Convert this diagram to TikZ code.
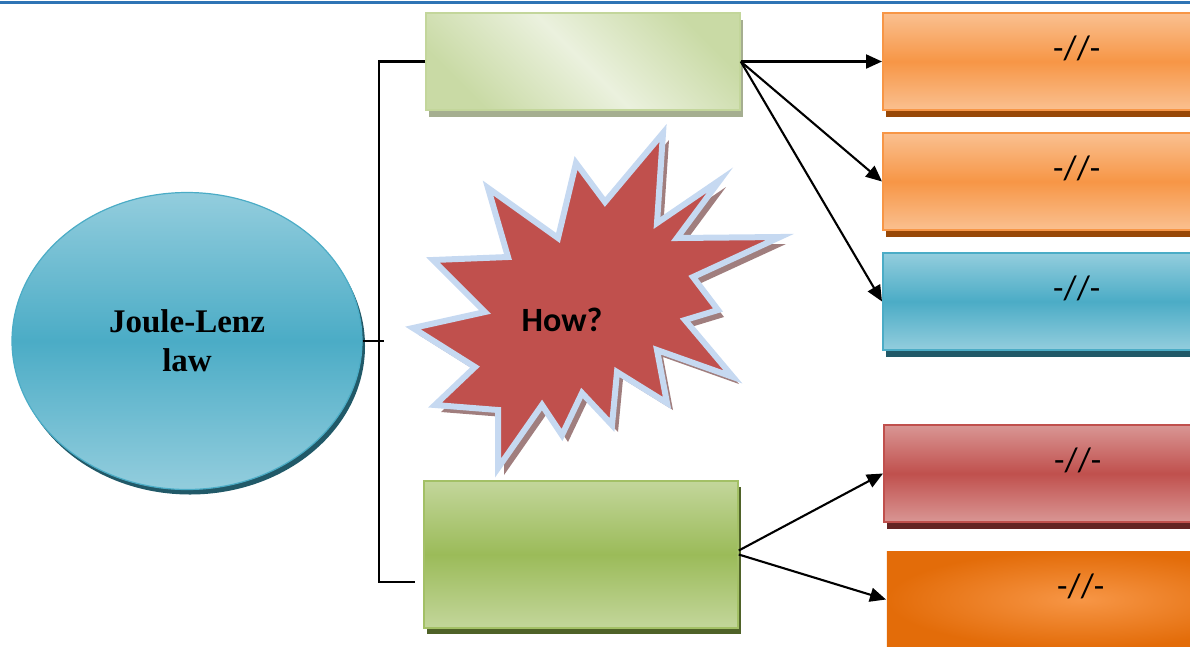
\documentclass[tikz,border=0pt]{standalone}
\usepackage{fontspec}
\setmainfont{Liberation Serif}
\newfontfamily\calib{Carlito}
\usepackage{tikz}
\usetikzlibrary{shapes.geometric, arrows.meta, shadows}
\definecolor{lawblue}{HTML}{4BACC6}
\definecolor{lawlight}{HTML}{93CDDD}
\definecolor{lawdark}{HTML}{215968}
\definecolor{grnpale}{HTML}{EBF1DE}
\definecolor{grnsoft}{HTML}{C3D69B}
\definecolor{grnmid}{HTML}{9BBB59}
\definecolor{grngray}{HTML}{A5AE90}
\definecolor{grndark}{HTML}{4F6228}
\definecolor{orng}{HTML}{F79646}
\definecolor{orngsoft}{HTML}{FAC090}
\definecolor{orngdark}{HTML}{984807}
\definecolor{orngdeep}{HTML}{E36C09}
\definecolor{redd}{HTML}{C0504D}
\definecolor{redsoft}{HTML}{D99694}
\definecolor{reddark}{HTML}{632423}
\definecolor{burstedge}{HTML}{C6D9F1}
\definecolor{burstshade}{HTML}{A07E7E}
\definecolor{pageblue}{HTML}{2E74B5}

\tikzset{
  greenbox/.style={rectangle, minimum width=314pt, line width=1.5pt, inner sep=0pt},
  outbox/.style={rectangle, anchor=west, minimum width=388pt, minimum height=97pt,
    line width=1.5pt, font=\calib\fontsize{34}{40}\selectfont, text depth=28pt},
  link/.style={line width=2.1pt, -{Triangle[length=16pt, width=14pt]}},
  brace/.style={line width=2.3pt}
}
\def\burst{(663,133) -- (605,202) -- (576,163) -- (558,238) -- (488,188) -- (508,257)
  -- (433,260) -- (485,312) -- (413,328) -- (475,367) -- (435,405) -- (498,410)
  -- (498,468) -- (542,405) -- (562,435) -- (582,393) -- (612,425) -- (617,372)
  -- (667,403) -- (657,350) -- (733,377) -- (685,320) -- (718,310) -- (693,277)
  -- (780,237) -- (677,238) -- (720,180) -- (657,223) -- cycle}

\begin{document}
\begin{tikzpicture}[x=1pt, y=-1pt]
\useasboundingbox (0,0) rectangle (1190,646);

% page rule
\draw[pageblue, line width=3pt] (0,2) -- (1190,2);

% the law
\node[ellipse, minimum width=350pt, minimum height=297pt, draw=lawblue, line width=1.2pt,
  top color=lawlight, bottom color=lawlight, middle color=lawblue,
  drop shadow={shadow xshift=3pt, shadow yshift=-5pt, fill=lawdark, opacity=1},
  align=center, font=\fontsize{33}{39}\selectfont\bfseries] (law) at (187,341) {Joule-Lenz\\law};

% two green boxes
\node[greenbox, minimum height=97pt, draw=grnsoft,
  left color=grnsoft!85!grnpale, right color=grnsoft!85!grnpale, middle color=grnpale, shading angle=-45,
  drop shadow={shadow xshift=3pt, shadow yshift=-7pt, fill=grngray, opacity=1}] (upper) at (583,61.5) {};
\node[greenbox, minimum height=147pt, draw=grnmid!80!grnsoft,
  top color=grnsoft, bottom color=grnsoft, middle color=grnmid,
  drop shadow={shadow xshift=3pt, shadow yshift=-6pt, fill=grndark, opacity=1}] (lower) at (581,554.5) {};

% bracket
\coordinate (brk) at (379,0);
\coordinate (brkend) at (415,582);
\coordinate (tick) at (384,0);
\draw[brace] (upper.west) -- (upper.west -| brk) -- (brkend -| brk) -- (brkend);
\draw[brace] (law.east) -- (law.east -| tick);

% burst
\fill[burstshade, shift={(6,7)}] \burst;
\draw[fill=redd, draw=burstedge, line width=6pt, line join=miter] \burst;
\node[font=\calib\fontsize{34}{40}\selectfont\bfseries] (how) at (562,320) {How?};

% right boxes
\node[outbox, draw=orng, top color=orngsoft, bottom color=orngsoft, middle color=orng,
  drop shadow={shadow xshift=3pt, shadow yshift=-7pt, fill=orngdark, opacity=1}] (out1) at (882,61.5) {-//-};
\node[outbox, draw=orng, top color=orngsoft, bottom color=orngsoft, middle color=orng,
  drop shadow={shadow xshift=3pt, shadow yshift=-7pt, fill=orngdark, opacity=1}] (out2) at (882,181.5) {-//-};
\node[outbox, draw=lawblue, top color=lawlight, bottom color=lawlight, middle color=lawblue,
  drop shadow={shadow xshift=3pt, shadow yshift=-7pt, fill=lawdark, opacity=1}] (out3) at (882,301.5) {-//-};
\node[outbox, draw=redd, top color=redsoft, bottom color=redsoft, middle color=redd,
  drop shadow={shadow xshift=3pt, shadow yshift=-7pt, fill=reddark, opacity=1}] (out4) at (883,473.5) {-//-};
\node[outbox, inner color=orng, outer color=orngdeep] (out5) at (886,599.5) {-//-};

% arrows
\draw[link] (upper.east) -- (out1.west);
\draw[link] (upper.east) -- (out2.west);
\draw[link] (upper.east) -- (out3.west);
\draw[link] ([yshift=4pt]lower.east) -- (out4.west);
\draw[link] (lower.east) -- (out5.west);
\end{tikzpicture}
\end{document}
